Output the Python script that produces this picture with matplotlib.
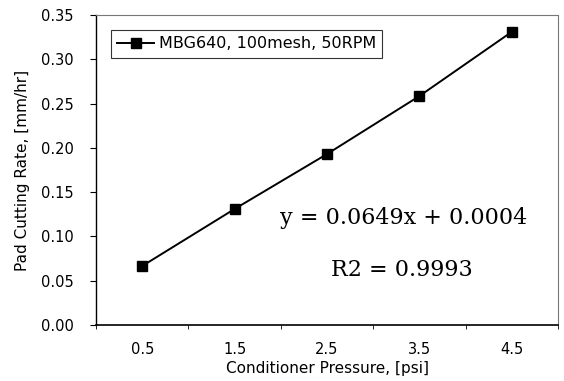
import matplotlib
matplotlib.use("Agg")
import matplotlib.pyplot as plt

# Data
pressures = ["0.5", "1.5", "2.5", "3.5", "4.5"]
cut_rate = [0.0666, 0.131, 0.193, 0.2585, 0.331]
series_label = "MBG640, 100mesh, 50RPM"
y_ticks = [0.00, 0.05, 0.10, 0.15, 0.20, 0.25, 0.30, 0.35]

plt.rcParams["font.family"] = ["DejaVu Sans"]

fig = plt.figure(figsize=(5.64, 3.81), dpi=100)
ax = fig.add_axes([96 / 564, 56 / 381, 462 / 564, 310 / 381])

x = list(range(len(pressures)))
ax.plot(x, cut_rate, color="black", linewidth=1.4, marker="s",
        markersize=6.5, markerfacecolor="black", label=series_label)

ax.set_xlim(-0.5, len(pressures) - 0.5)
ax.set_ylim(0, 0.35)
ax.set_yticks(y_ticks)
ax.set_yticklabels([f"{v:.2f}" for v in y_ticks], fontsize=10.5)
ax.set_xticks(x)
ax.set_xticklabels(pressures, fontsize=10.5)
ax.tick_params(axis="x", which="major", length=0, pad=12)
ax.set_xticks([i + 0.5 for i in range(-1, len(pressures))], minor=True)
ax.tick_params(axis="x", which="minor", length=3, direction="out")
ax.tick_params(axis="y", length=4, direction="out", pad=12)

for side in ["top", "right"]:
    ax.spines[side].set_color("#777777")
    ax.spines[side].set_linewidth(0.8)
    ax.spines[side].set_linestyle((0, (1, 1)))
ax.spines["left"].set_linewidth(1.0)
ax.spines["bottom"].set_linewidth(1.2)

ax.set_xlabel("Conditioner Pressure, [psi]", fontsize=11, labelpad=3)
ax.set_ylabel("Pad Cutting Rate, [mm/hr]", fontsize=11, labelpad=8)

leg = ax.legend(loc="upper left", bbox_to_anchor=(0.032, 0.952), fontsize=11.5,
                frameon=True, fancybox=False, edgecolor="black",
                handlelength=2.3, borderpad=0.4, handletextpad=0.3,
                borderaxespad=0)
leg.get_frame().set_linewidth(0.8)

ax.text(0.398, 0.345, "y = 0.0649x + 0.0004", transform=ax.transAxes,
        fontsize=16, family="DejaVu Serif", ha="left", va="center")
ax.text(0.508, 0.177, "R2 = 0.9993", transform=ax.transAxes,
        fontsize=16, family="DejaVu Serif", ha="left", va="center")

fig.savefig("out.png", dpi=100)
